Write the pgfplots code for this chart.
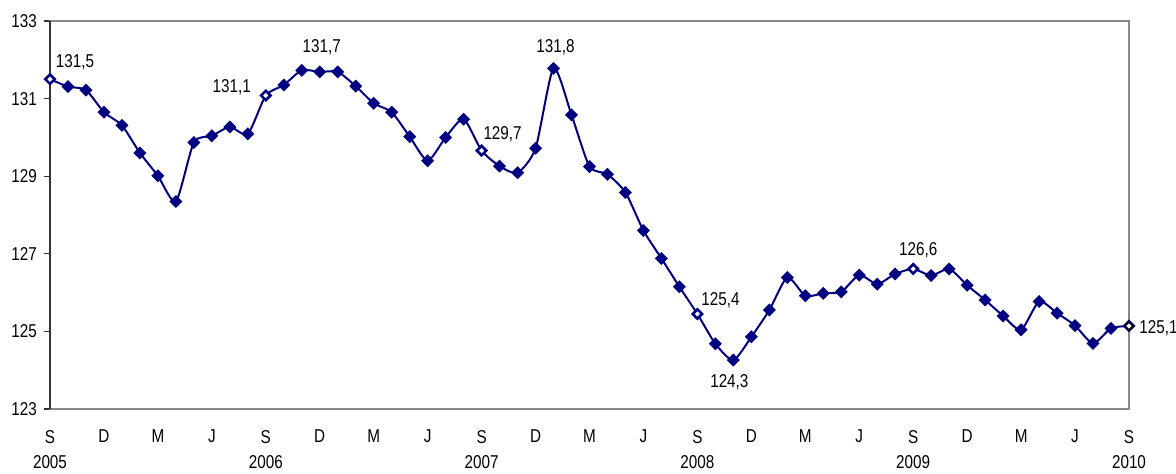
\documentclass[border=0pt]{standalone}
\usepackage{pgfplots}
\pgfplotsset{compat=1.18}
\usepackage{fontspec}
\setmainfont{Liberation Sans}[FakeStretch=0.82]
\definecolor{navy}{RGB}{0,0,128}
\definecolor{framegray}{RGB}{136,136,136}

\begin{document}
\begin{tikzpicture}
\begin{axis}[
  set layers=standard,
  scale only axis,
  width=539.5pt, height=194pt,
  xmin=0, xmax=60, ymin=123, ymax=133,
  clip=false,
  axis line style={framegray, line width=1pt},
  ytick={123,125,...,133},
  ytick pos=left, tick align=outside,
  major tick length=3pt,
  ytick style={black!80, line width=0.6pt},
  xtick={0,3,...,60},
  xtick style={draw=none},
  xticklabels={{S\\2005},D,M,J,{S\\2006},D,M,J,{S\\2007},D,M,J,{S\\2008},D,M,J,{S\\2009},D,M,J,{S\\2010}},
  xticklabel style={align=center, font=\fontsize{9.3}{12.5}\selectfont, yshift=-4pt},
  yticklabel style={font=\fontsize{9.3}{11}\selectfont},
  /pgf/number format/assume math mode=true,
]
\coordinate (sw) at (rel axis cs:0,0);
\coordinate (ne) at (rel axis cs:1,1);
\draw[on layer=pre main, black!80, line width=1pt] (rel axis cs:0,0) -- (rel axis cs:0,1);

\addplot[navy, line width=1pt, smooth, tension=0.4, mark=square*,
  mark size=1.8pt, mark options={rotate=45, solid, fill=navy}]
coordinates {
(0,131.50) (1,131.31) (2,131.22) (3,130.65) (4,130.31) (5,129.60)
(6,129.01) (7,128.35) (8,129.87) (9,130.04) (10,130.27) (11,130.09)
(12,131.08) (13,131.35) (14,131.73) (15,131.69) (16,131.69) (17,131.32)
(18,130.88) (19,130.65) (20,130.02) (21,129.40) (22,130.00) (23,130.47)
(24,129.66) (25,129.26) (26,129.09) (27,129.72) (28,131.78) (29,130.58)
(30,129.25) (31,129.05) (32,128.58) (33,127.60) (34,126.88) (35,126.15)
(36,125.45) (37,124.68) (38,124.26) (39,124.86) (40,125.55) (41,126.39)
(42,125.92) (43,125.98) (44,126.02) (45,126.45) (46,126.22) (47,126.48)
(48,126.61) (49,126.44) (50,126.61) (51,126.19) (52,125.81) (53,125.40)
(54,125.04) (55,125.77) (56,125.47) (57,125.15) (58,124.69) (59,125.08)
(60,125.14)
};
% highlighted September values
\addplot[only marks, mark=square*, mark size=1.4pt,
  mark options={rotate=45, draw=navy, fill=white, line width=0.8pt}]
coordinates {(0,131.50) (12,131.08) (24,129.66) (36,125.45) (48,126.61)};
\addplot[only marks, mark=square*, mark size=1.4pt,
  mark options={rotate=45, draw=black, fill=white, line width=0.8pt}]
coordinates {(60,125.14)};

\begin{scope}[every node/.style={font=\fontsize{9.3}{11}\selectfont}]
\node at ([xshift=12.5pt,yshift=8.5pt]axis cs:0,131.50) {131,5};
\node at ([xshift=-17pt,yshift=4pt]axis cs:12,131.08) {131,1};
\node at ([xshift=10pt,yshift=11.5pt]axis cs:14,131.73) {131,7};
\node at ([xshift=10.5pt,yshift=8pt]axis cs:24,129.66) {129,7};
\node at ([xshift=1pt,yshift=10.5pt]axis cs:28,131.78) {131,8};
\node at ([xshift=11.5pt,yshift=7pt]axis cs:36,125.45) {125,4};
\node at ([xshift=-2pt,yshift=-11pt]axis cs:38,124.26) {124,3};
\node at ([xshift=2.5pt,yshift=9.5pt]axis cs:48,126.61) {126,6};
\node[anchor=west, inner sep=0pt] at ([xshift=5pt,yshift=-1pt]axis cs:60,125.14) {125,1};
\end{scope}
\end{axis}
\pgfresetboundingbox
\path ([xshift=-25pt,yshift=-32pt]sw) rectangle ([xshift=23.5pt,yshift=10.5pt]ne);
\end{tikzpicture}
\end{document}
